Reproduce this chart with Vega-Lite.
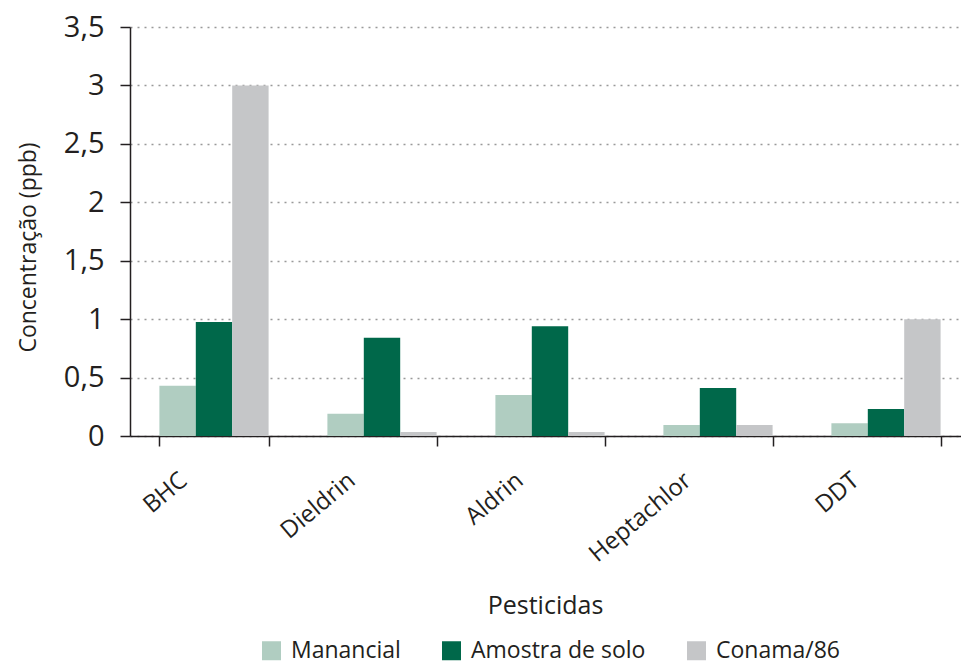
{
  "$schema": "https://vega.github.io/schema/vega-lite/v6.json",
  "width": 831,
  "height": 409,
  "autosize": "none",
  "padding": {"left": 130, "top": 27, "right": 0, "bottom": 232},
  "background": "white",
  "data": {
    "values": [
      {"pesticida": "BHC", "serie": "Manancial", "valor": 0.43},
      {"pesticida": "BHC", "serie": "Amostra de solo", "valor": 0.975},
      {"pesticida": "BHC", "serie": "Conama/86", "valor": 3.0},
      {"pesticida": "Dieldrin", "serie": "Manancial", "valor": 0.19},
      {"pesticida": "Dieldrin", "serie": "Amostra de solo", "valor": 0.84},
      {"pesticida": "Dieldrin", "serie": "Conama/86", "valor": 0.035},
      {"pesticida": "Aldrin", "serie": "Manancial", "valor": 0.35},
      {"pesticida": "Aldrin", "serie": "Amostra de solo", "valor": 0.94},
      {"pesticida": "Aldrin", "serie": "Conama/86", "valor": 0.035},
      {"pesticida": "Heptachlor", "serie": "Manancial", "valor": 0.095},
      {"pesticida": "Heptachlor", "serie": "Amostra de solo", "valor": 0.41},
      {"pesticida": "Heptachlor", "serie": "Conama/86", "valor": 0.095},
      {"pesticida": "DDT", "serie": "Manancial", "valor": 0.11},
      {"pesticida": "DDT", "serie": "Amostra de solo", "valor": 0.23},
      {"pesticida": "DDT", "serie": "Conama/86", "valor": 1.0}
    ]
  },
  "mark": {"type": "bar"},
  "encoding": {
    "x": {
      "field": "pesticida",
      "type": "nominal",
      "sort": ["BHC", "Dieldrin", "Aldrin", "Heptachlor", "DDT"],
      "scale": {"paddingInner": 0.35, "paddingOuter": 0.175, "range": [0, 840]},
      "axis": {
        "title": "Pesticidas",
        "tickBand": "extent",
        "labelAngle": -40,
        "labelAlign": "right",
        "labelBaseline": "top",
        "labelPadding": 22,
        "labelOffset": -38,
        "labelFontSize": 24,
        "labelColor": "#231f20",
        "tickSize": 10,
        "tickColor": "#231f20",
        "tickWidth": 1.5,
        "domainColor": "#231f20",
        "domainWidth": 1.5,
        "grid": false,
        "titleFontSize": 25,
        "titleFontWeight": "normal",
        "titleColor": "#231f20",
        "titleBaseline": "alphabetic",
        "titleY": 177,
        "titleX": 415
      }
    },
    "xOffset": {
      "field": "serie",
      "type": "nominal",
      "sort": ["Manancial", "Amostra de solo", "Conama/86"],
      "scale": {"paddingInner": 0, "paddingOuter": 0}
    },
    "y": {
      "field": "valor",
      "type": "quantitative",
      "scale": {"domain": [0, 3.5], "nice": false},
      "axis": {
        "title": "Concentração (ppb)",
        "values": [0, 0.5, 1, 1.5, 2, 2.5, 3, 3.5],
        "labelExpr": "replace(format(datum.value, '~g'), '.', ',')",
        "labelFontSize": 29,
        "labelColor": "#231f20",
        "labelPadding": 16,
        "tickSize": 10,
        "tickColor": "#231f20",
        "tickWidth": 1.5,
        "domainColor": "#231f20",
        "domainWidth": 1.5,
        "grid": true,
        "gridColor": "#999999",
        "gridDash": [2, 5],
        "gridWidth": 1.5,
        "titleFontSize": 23,
        "titleFontWeight": "normal",
        "titleColor": "#231f20",
        "titleBaseline": "alphabetic",
        "titleAngle": -90,
        "titleX": -95,
        "titleY": 220
      }
    },
    "color": {
      "field": "serie",
      "type": "nominal",
      "sort": ["Manancial", "Amostra de solo", "Conama/86"],
      "scale": {
        "domain": ["Manancial", "Amostra de solo", "Conama/86"],
        "range": ["#b0cdc1", "#00684a", "#c5c6c8"]
      },
      "legend": {
        "title": null,
        "orient": "none",
        "direction": "horizontal",
        "legendX": 130,
        "legendY": 612,
        "symbolType": "square",
        "symbolSize": 361,
        "symbolStrokeWidth": 0,
        "symbolOpacity": 1,
        "labelFontSize": 23,
        "labelColor": "#231f20",
        "labelOffset": 8,
        "columnPadding": 39,
        "labelLimit": 300
      }
    }
  },
  "config": {
    "view": {"stroke": null},
    "font": "Open Sans"
  }
}
